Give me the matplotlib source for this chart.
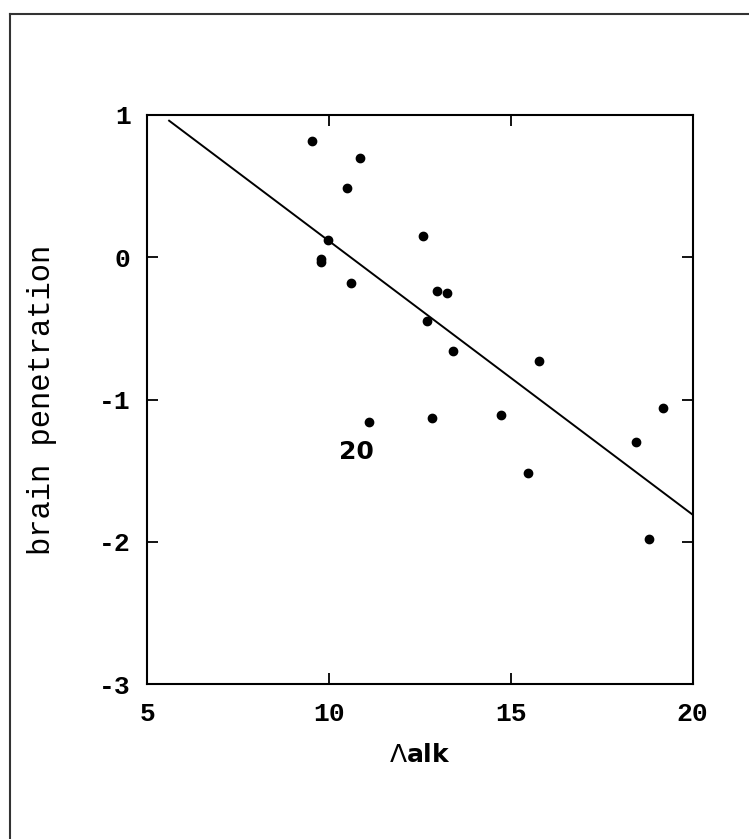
import matplotlib
matplotlib.use("Agg")
import matplotlib.pyplot as plt
from matplotlib.lines import Line2D

# values
lambda_alk = [9.52, 10.84, 10.48, 9.97, 9.77, 9.77, 10.60, 12.57, 12.97, 13.23,
              12.70, 13.41, 15.77, 11.09, 12.84, 14.73, 15.48, 19.18, 18.43, 18.81]
brain_pen = [0.82, 0.70, 0.49, 0.12, -0.01, -0.03, -0.18, 0.15, -0.24, -0.25,
             -0.45, -0.66, -0.73, -1.16, -1.13, -1.11, -1.52, -1.06, -1.30, -1.98]

fit_x = [5.6, 20.0]
fit_y = [0.96, -1.81]

label_20 = (10.75, -1.37)

x_ticks = [5, 10, 15, 20]
y_ticks = [1, 0, -1, -2, -3]

plt.rcParams["mathtext.fontset"] = "custom"
plt.rcParams["mathtext.it"] = "Liberation Serif:italic"
plt.rcParams["mathtext.rm"] = "DejaVu Sans"

W, H = 749, 839
fig = plt.figure(figsize=(W / 100, H / 100), dpi=100, facecolor="white")
ax = fig.add_axes([147.3 / W, 1 - 684 / H, (692.7 - 147.3) / W, (684 - 115) / H])

ax.plot(fit_x, fit_y, color="black", linewidth=1.4, zorder=2)
ax.plot(lambda_alk, brain_pen, "o", color="black", markersize=6, zorder=3)
ax.text(label_20[0], label_20[1], "20", ha="center", va="center",
        fontsize=18, fontweight="bold", family="DejaVu Sans")

ax.set_xlim(5, 20)
ax.set_ylim(-3, 1)
ax.set_xticks(x_ticks)
ax.set_yticks(y_ticks)
tick_font = dict(family="Liberation Mono", fontsize=19, fontweight="bold")
ax.set_xticklabels([str(t) for t in x_ticks], **tick_font)
ax.set_yticklabels([str(t) for t in y_ticks], **tick_font)
ax.tick_params(direction="in", length=8, width=1.3, top=True, right=True)
ax.tick_params(axis="x", pad=13)
ax.tick_params(axis="y", pad=12)
for s in ax.spines.values():
    s.set_linewidth(1.5)

ax.set_ylabel("brain penetration", family="Liberation Mono", fontsize=22, labelpad=30)
ax.set_xlabel("$\\mathit{Λ}$alk", family="DejaVu Sans", fontsize=18, fontweight="bold",
              labelpad=12)

# outer frame (left and top edges only, as in the scan)
fig.add_artist(Line2D([10 / W, 10 / W], [0, 1 - 14 / H], color="#333333", linewidth=1.5,
                      transform=fig.transFigure))
fig.add_artist(Line2D([10 / W, 1], [1 - 14 / H, 1 - 14 / H], color="#333333", linewidth=1.5,
                      transform=fig.transFigure))

fig.savefig("out.png", dpi=100, facecolor="white")
